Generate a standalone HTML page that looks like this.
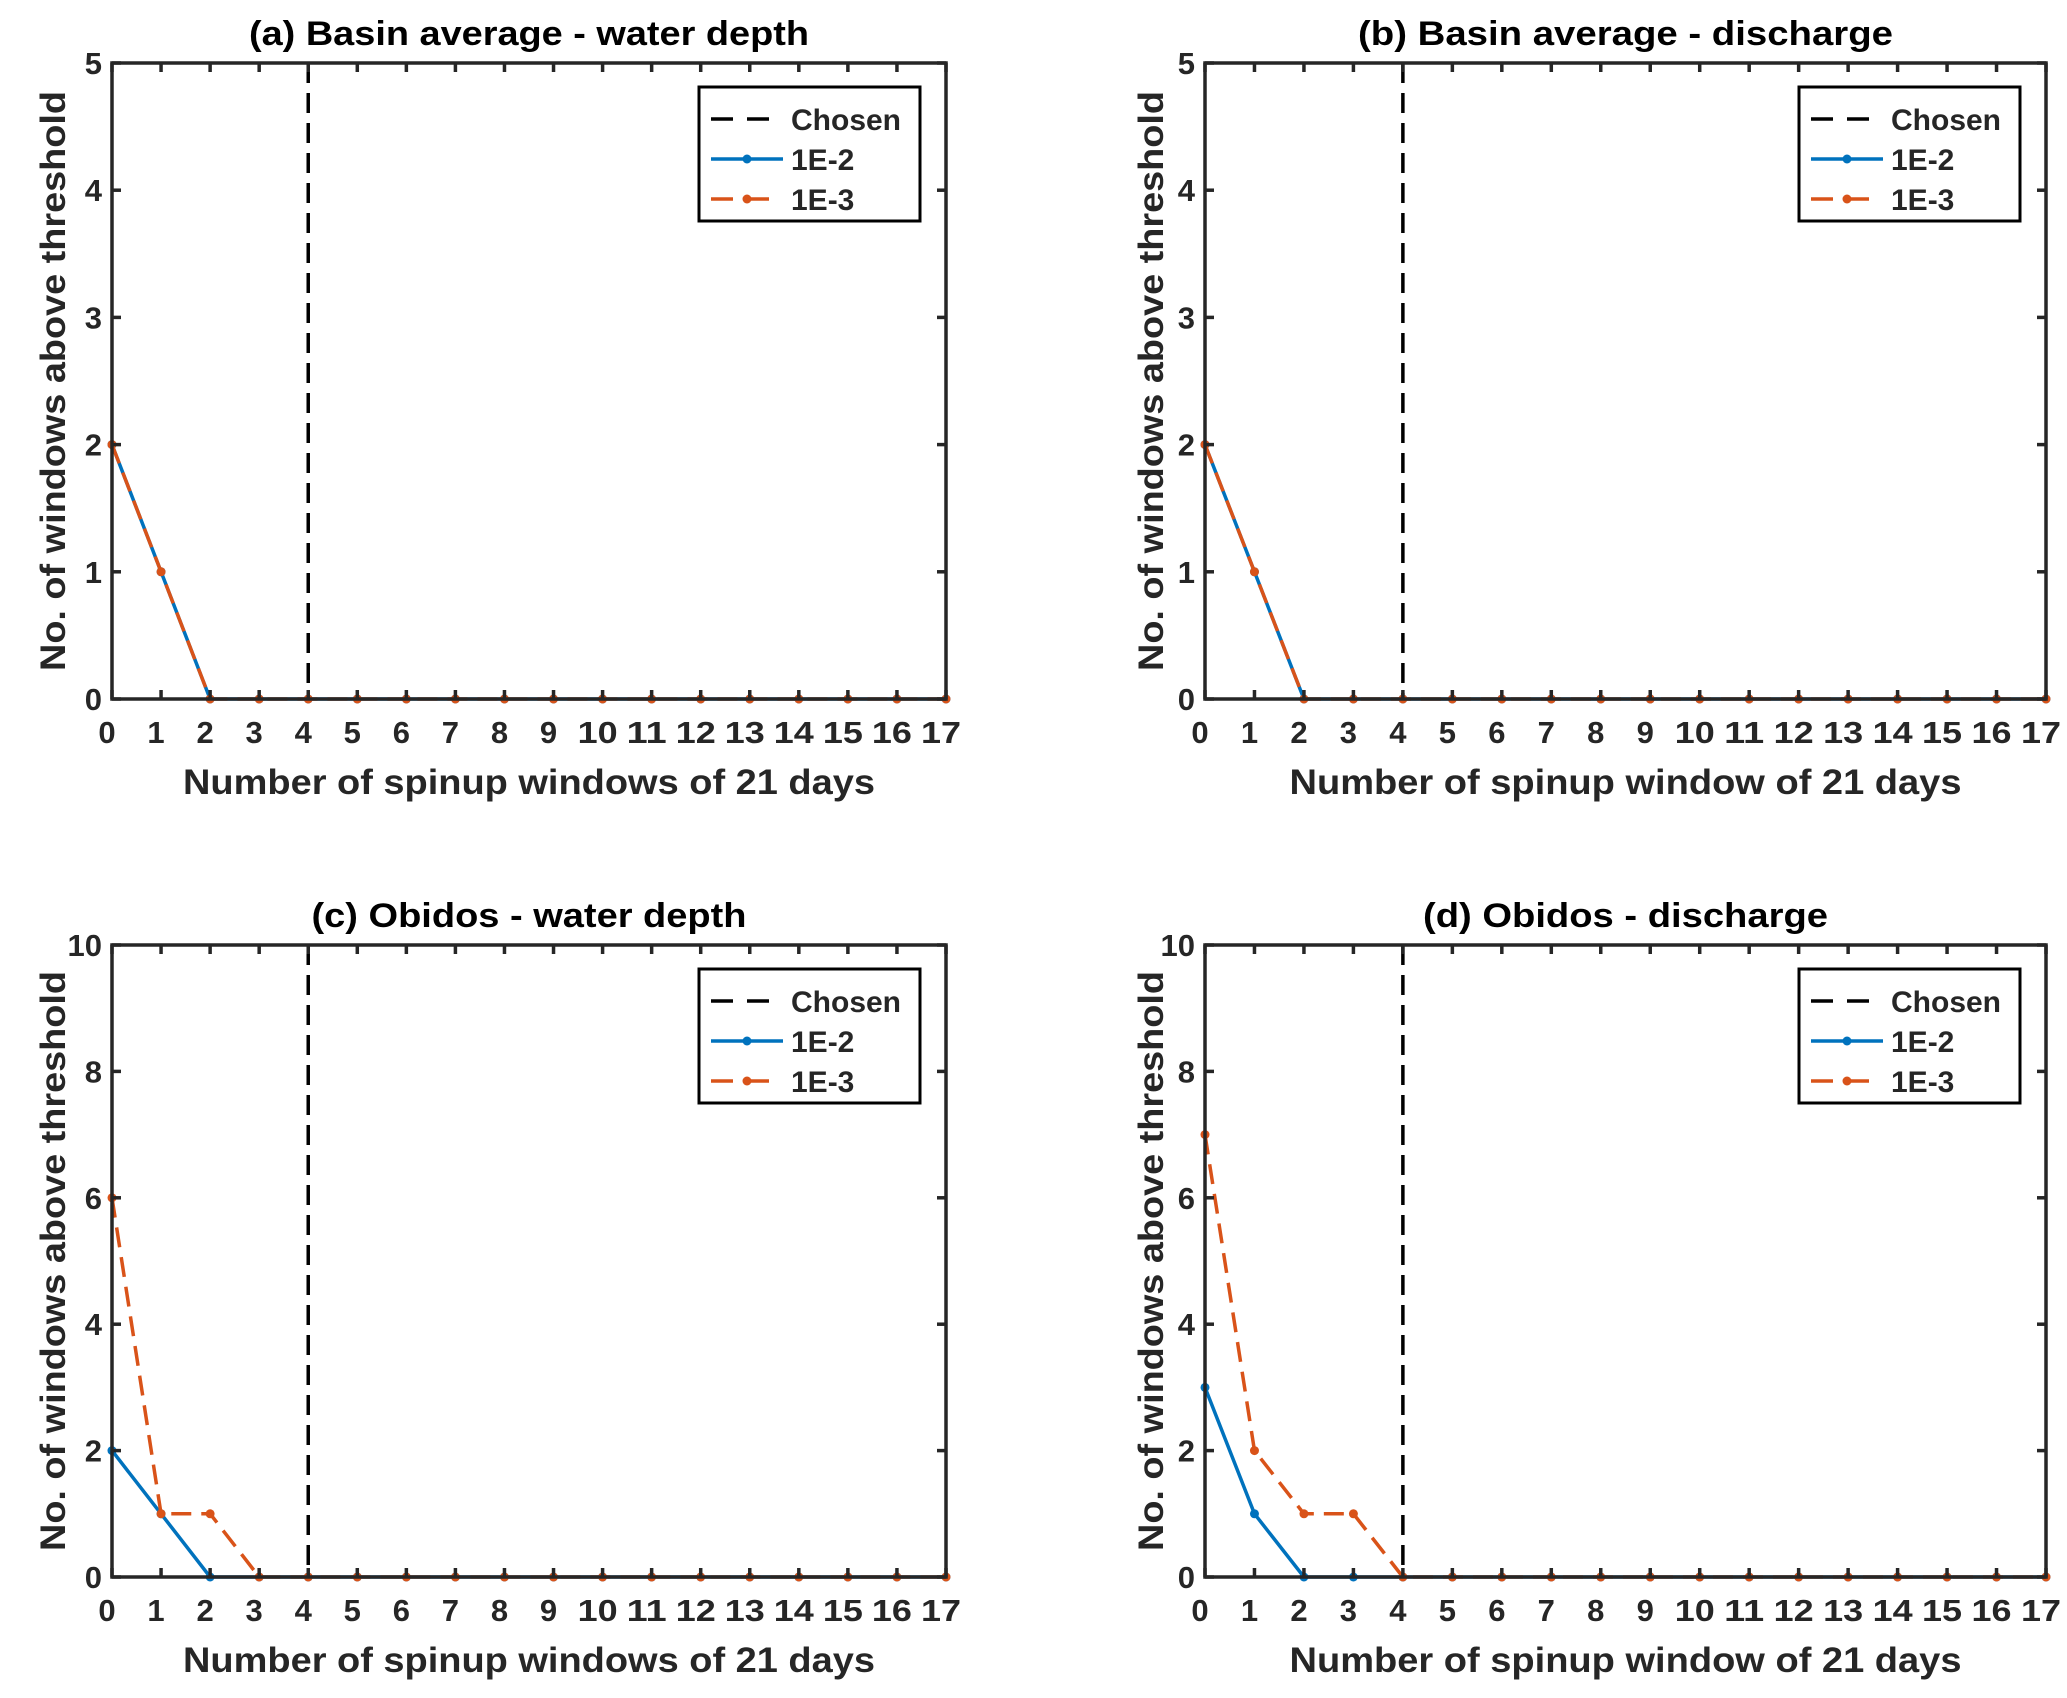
<!DOCTYPE html>
<html><head><meta charset="utf-8"><style>
html,body{margin:0;padding:0;background:#fff;}
svg{display:block;}
text{font-family:"Liberation Sans",sans-serif;font-weight:bold;fill:#262626;}
</style></head><body>
<svg id="fig" width="2067" height="1698" viewBox="0 0 2067 1698" xmlns="http://www.w3.org/2000/svg"></svg>
<script>
const categories = [0,1,2,3,4,5,6,7,8,9,10,11,12,13,14,15,16,17];
const aSeries1 = [2,1,0,0,0,0,0,0,0,0,0,0,0,0,0,0,0,0];
const aSeries2 = [2,1,0,0,0,0,0,0,0,0,0,0,0,0,0,0,0,0];
const bSeries1 = [2,1,0,0,0,0,0,0,0,0,0,0,0,0,0,0,0,0];
const bSeries2 = [2,1,0,0,0,0,0,0,0,0,0,0,0,0,0,0,0,0];
const cSeries1 = [2,1,0,0,0,0,0,0,0,0,0,0,0,0,0,0,0,0];
const cSeries2 = [6,1,1,0,0,0,0,0,0,0,0,0,0,0,0,0,0,0];
const dSeries1 = [3,1,0,0,0,0,0,0,0,0,0,0,0,0,0,0,0,0];
const dSeries2 = [7,2,1,1,0,0,0,0,0,0,0,0,0,0,0,0,0,0];
const chosenX = 4;
const yTicksTop = [0,1,2,3,4,5];
const yTicksBottom = [0,2,4,6,8,10];
const titles = ["(a) Basin average - water depth","(b) Basin average - discharge","(c) Obidos - water depth","(d) Obidos - discharge"];
const xLabels = ["Number of spinup windows of 21 days","Number of spinup window of 21 days","Number of spinup windows of 21 days","Number of spinup window of 21 days"];
const legendLabels = ["Chosen","1E-2","1E-3"];

const NS="http://www.w3.org/2000/svg";
const svg=document.getElementById('fig');
function mk(tag,attrs,parent){const e=document.createElementNS(NS,tag);for(const k in attrs)e.setAttribute(k,attrs[k]);(parent||svg).appendChild(e);return e;}

const panels=[
 {L:112,R:946,T:63,B:699,ymax:5,ticks:yTicksTop,s1:aSeries1,s2:aSeries2,ylx:53},
 {L:1205,R:2046,T:63,B:699,ymax:5,ticks:yTicksTop,s1:bSeries1,s2:bSeries2,ylx:1151},
 {L:112,R:946,T:945,B:1577,ymax:10,ticks:yTicksBottom,s1:cSeries1,s2:cSeries2,ylx:53},
 {L:1205,R:2046,T:945,B:1577,ymax:10,ticks:yTicksBottom,s1:dSeries1,s2:dSeries2,ylx:1151}
];
const names=['a','b','c','d'];
panels.forEach((p,i)=>{
  const g=mk('g',{});
  
  
  const xs=v=>p.L+(v-0)/17*(p.R-p.L);
  const ys=v=>p.B-v/p.ymax*(p.B-p.T);
  const ch=mk('line',{x1:xs(chosenX),x2:xs(chosenX),y1:p.T,y2:p.B,stroke:'#000','stroke-width':3.5,'stroke-dasharray':'20,10'},g);
  
  
  const pts1=categories.map((c,k)=>xs(c)+','+ys(p.s1[k])).join(' ');
  const pts2=categories.map((c,k)=>xs(c)+','+ys(p.s2[k])).join(' ');
  const l1=mk('polyline',{points:pts1,fill:'none',stroke:'#0072bd','stroke-width':3.5},g);
  
  
  categories.forEach((c,k)=>{const m=mk('circle',{cx:xs(c),cy:ys(p.s1[k]),r:4.5,fill:'#0072bd'},g);
    
    });
  const l2=mk('polyline',{points:pts2,fill:'none',stroke:'#d95319','stroke-width':3.5,'stroke-dasharray':'20,10'},g);
  
  
  categories.forEach((c,k)=>{const m=mk('circle',{cx:xs(c),cy:ys(p.s2[k]),r:4.5,fill:'#d95319'},g);
    
    });
  const box=mk('rect',{x:p.L,y:p.T,width:p.R-p.L,height:p.B-p.T,fill:'none',stroke:'#262626','stroke-width':3.5},g);
  
  
  categories.forEach(c=>{
    const x=xs(c);
    mk('line',{x1:x,x2:x,y1:p.B,y2:p.B-9,stroke:'#262626','stroke-width':3.5},g);
    mk('line',{x1:x,x2:x,y1:p.T,y2:p.T+9,stroke:'#262626','stroke-width':3.5},g);
    const t=mk('text',{x:x-5,y:p.B+44,'font-size':31,'text-anchor':'middle'},g);
    if(c>=10) t.setAttribute('textLength',40), t.setAttribute('lengthAdjust','spacingAndGlyphs');
    t.textContent=c;
    
    
  });
  p.ticks.forEach(v=>{
    const y=ys(v);
    mk('line',{x1:p.L,x2:p.L+9,y1:y,y2:y,stroke:'#262626','stroke-width':3.5},g);
    mk('line',{x1:p.R,x2:p.R-9,y1:y,y2:y,stroke:'#262626','stroke-width':3.5},g);
    const t=mk('text',{x:p.L-10,y:y+11,'font-size':31,'text-anchor':'end'},g);
    t.textContent=v;
    
    
  });
  const cx=(p.L+p.R)/2;
  const tt=mk('text',{x:cx,y:p.T-18,'font-size':34,'text-anchor':'middle',textLength:560,lengthAdjust:'spacingAndGlyphs'},g);
  tt.textContent=titles[i];
  tt.style.fill='#000';
  if(i>=2) tt.setAttribute('textLength', i==2?435:405);
  else if(i==1) tt.setAttribute('textLength',535);
  
  
  const xl=mk('text',{x:cx,y:p.B+95,'font-size':35,'text-anchor':'middle',textLength:i%2?672:692,lengthAdjust:'spacingAndGlyphs'},g);
  xl.textContent=xLabels[i];
  
  
  const yc=(p.T+p.B)/2;
  const yl=mk('text',{x:p.ylx,y:yc,'font-size':35,'text-anchor':'middle',transform:`rotate(-90 ${p.ylx} ${yc})`,dy:12,textLength:580,lengthAdjust:'spacingAndGlyphs'},g);
  yl.textContent='No. of windows above threshold';
  
  
  const LX=p.R-247, LY=p.T+24, LW=221, LH=134;
  const lg=mk('g',{},g);
  
  
  mk('rect',{x:LX,y:LY,width:LW,height:LH,fill:'#fff',stroke:'#000','stroke-width':3},lg);
  const rows=[{c:'#000',d:'22,14',m:false},{c:'#0072bd',d:'',m:true},{c:'#d95319',d:'22,14',m:true}];
  rows.forEach((r,k)=>{
    const y=LY+32+k*40;
    const e=mk('g',{},lg);
    
    
    const ln=mk('line',{x1:LX+12,x2:LX+84,y1:y,y2:y,stroke:r.c,'stroke-width':3.5},e);
    if(r.d) ln.setAttribute('stroke-dasharray', r.d);
    if(r.m) mk('circle',{cx:LX+48,cy:y,r:4.5,fill:r.c},e);
    const t=mk('text',{x:LX+92,y:y+11,'font-size':30},e);
    t.textContent=legendLabels[k];
  });
});
</script>
</body></html>
